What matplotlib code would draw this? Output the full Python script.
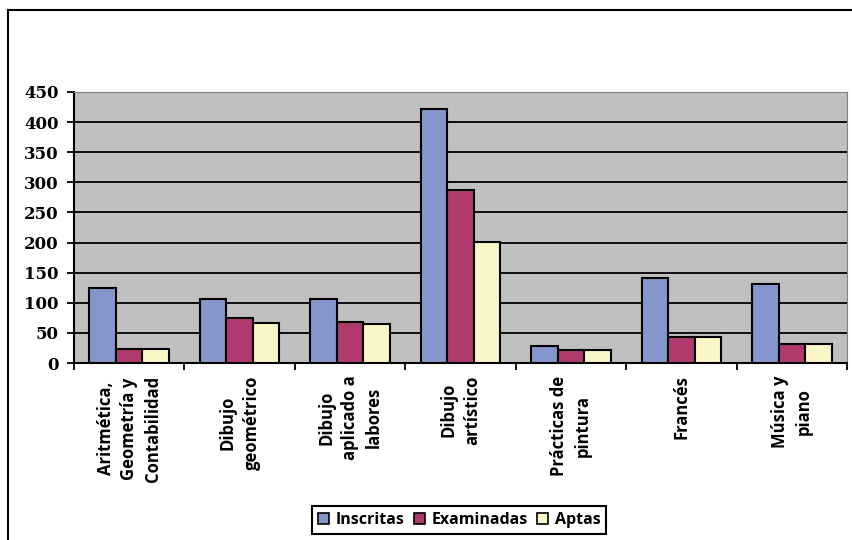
import numpy as np
import matplotlib.pyplot as plt
from matplotlib.lines import Line2D

# data
categories = ["Aritmética,\nGeometría y\nContabilidad", "Dibujo\ngeométrico",
              "Dibujo\naplicado a\nlabores", "Dibujo\nartístico",
              "Prácticas de\npintura", "Francés", "Música y\npiano"]
inscritas = [124, 106, 106, 421, 28, 141, 131]
examinadas = [24, 74, 68, 287, 21, 43, 31]
aptas = [24, 66, 64, 201, 21, 43, 31]

series_names = ["Inscritas", "Examinadas", "Aptas"]
colors = ["#8596CC", "#B03A6E", "#FBF6C8"]

label_font = "Open Sans"

fig = plt.figure(figsize=(8.53, 5.40), dpi=100)
ax = fig.add_axes([74/853, 1-363/540, (847-74)/853, (363-92)/540])
ax.set_facecolor("#C0C0C0")

x = np.arange(len(categories))
w = 0.24
for i, (vals, name) in enumerate(zip([inscritas, examinadas, aptas], series_names)):
    ax.bar(x + (i-1)*w, vals, w, color=colors[i], edgecolor="black",
           linewidth=1.5, label=name, zorder=3)

ax.set_xlim(-0.5, len(categories)-0.5)
ax.set_ylim(0, 450)
ax.set_yticks(range(0, 451, 50))
for yv in range(50, 450, 50):
    ax.axhline(yv, color="black", linewidth=1.3, zorder=1)

# tick marks at category boundaries, labels at centres
ax.set_xticks(x)
ax.set_xticklabels(categories, rotation=90, ha="center", va="top",
                   multialignment="center", linespacing=1.4,
                   fontfamily=label_font, fontweight="bold", fontsize=12)
ax.tick_params(axis="x", which="major", length=0, pad=9)
ax.set_xticks(np.arange(-0.5, len(categories)), minor=True)
ax.tick_params(axis="x", which="minor", length=5, width=1.3, direction="out", color="black")
ax.tick_params(axis="y", length=5, width=1.3, direction="out", pad=6)
for lab in ax.get_yticklabels():
    lab.set_fontfamily("DejaVu Serif")
    lab.set_fontweight("bold")
    lab.set_fontsize(12)

ax.spines["left"].set_linewidth(1.5)
ax.spines["bottom"].set_linewidth(1.5)
ax.spines["top"].set_color("#808080")
ax.spines["right"].set_color("#808080")

leg = fig.legend(loc="center", bbox_to_anchor=(459/853, 1-520/540), ncol=3,
                 prop={"family": label_font, "weight": "bold", "size": 11.5},
                 handlelength=0.7, handleheight=0.7, handletextpad=0.4,
                 columnspacing=0.6, borderpad=0.35, fancybox=False,
                 framealpha=1, edgecolor="black")
leg.get_frame().set_linewidth(1.5)
for h in leg.legend_handles:
    h.set_linewidth(1.2)

# outer chart border (cut off at right and bottom in the original)
fig.add_artist(Line2D([8/853, 8/853], [0, 1-10/540], color="black", linewidth=1.5,
                      transform=fig.transFigure))
fig.add_artist(Line2D([8/853, 1], [1-10/540, 1-10/540], color="black", linewidth=1.5,
                      transform=fig.transFigure))

fig.savefig("out.png", dpi=100)
